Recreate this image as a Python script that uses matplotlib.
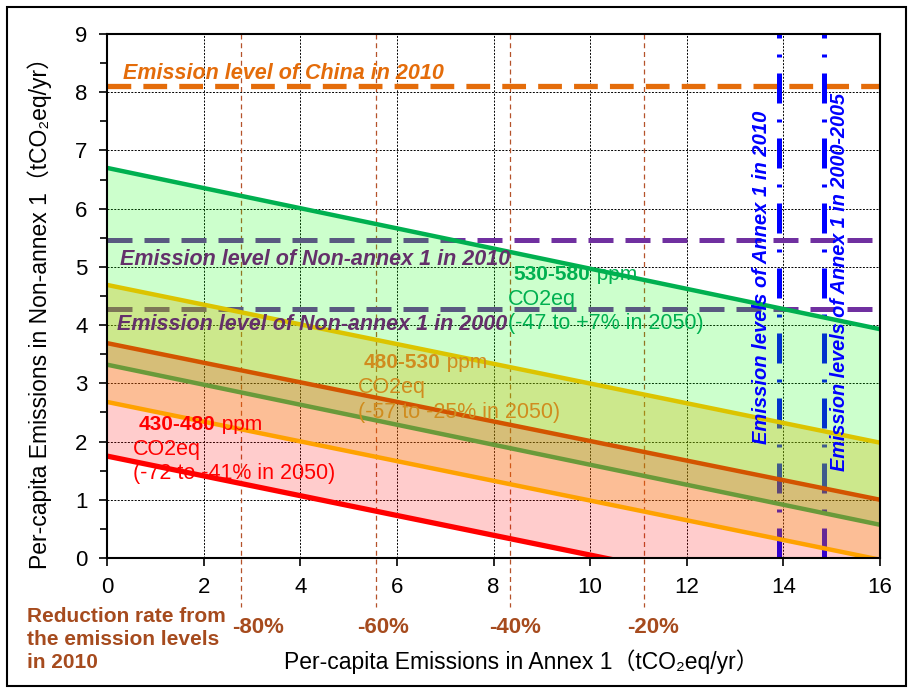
import matplotlib
matplotlib.use("Agg")
import matplotlib.pyplot as plt
from matplotlib.patches import Rectangle

plt.rcParams['font.family'] = ['Liberation Sans', 'Noto Sans CJK JP', 'DejaVu Sans']

# band boundary lines, value at x=0 and x=16
x_ends = [0, 16]
green_line = [6.70, 3.93]
yellow_line = [4.69, 1.98]
darkorange_line = [3.69, 1.00]
olive_line = [3.32, 0.57]
orange_line = [2.68, -0.03]
red_line = [1.75, -0.97]

# reference levels
china_2010 = 8.1
nonannex_2010 = 5.47
nonannex_2000 = 4.27
annex_2010 = 13.9
annex_2000_2005 = 14.85

# reduction rates from the 2010 Annex 1 level
rate_labels = ['-80%', '-60%', '-40%', '-20%']
rate_x = [2.78, 5.56, 8.34, 11.12]
rate_label_x = [3.12, 5.71, 8.45, 11.3]

xticks = list(range(0, 17, 2))
yticks = list(range(0, 10))

fig = plt.figure(figsize=(9.11, 6.88), dpi=100)
ax = fig.add_axes([0.1175, 0.189, 0.8485, 0.7616])
ax.set_xlim(0, 16)
ax.set_ylim(0, 9)

# horizontal reference levels (under the fills)
ax.axhline(china_2010, color='#e46c0a', lw=3.8, dashes=(4.5, 2.3), zorder=2)
ax.axhline(nonannex_2010, color='#7030a0', lw=3.6, dashes=(5, 2.4), zorder=2)
ax.axhline(nonannex_2000, color='#7030a0', lw=3.6, dashes=(5, 2.4), zorder=2)

# vertical Annex 1 levels
for xv in [annex_2010, annex_2000_2005]:
    ax.axvline(xv, color='#0000ff', lw=3.6, dashes=(6, 3.2, 0.6, 3.2), zorder=2)

# reduction-rate guides, running below the axis
for xv in rate_x:
    ax.plot([xv, xv], [9, -0.84], color='#b5522a', lw=0.9, dashes=(4, 3),
            clip_on=False, zorder=1.6)

# filled regions between lines
regions = [
    (green_line, yellow_line, (0, 1, 0), 0.2),
    (yellow_line, darkorange_line, (142/255, 204/255, 0), 0.45),
    (darkorange_line, olive_line, (178/255, 132/255, 0), 0.53),
    (olive_line, orange_line, (248/255, 97/255, 0), 0.41),
    (orange_line, red_line, (1, 0, 0), 0.2),
]
for top, bot, col, a in regions:
    ax.fill_between(x_ends, top, bot, color=col, alpha=a, lw=0, zorder=3)

lines = [
    (green_line, '#00b050'),
    (yellow_line, '#dcc400'),
    (darkorange_line, '#d35400'),
    (olive_line, '#6a9a3a'),
    (orange_line, '#ffa200'),
    (red_line, '#ff0000'),
]
for vals, col in lines:
    lw = 3.8 if col == '#ff0000' else 3.2
    ax.plot(x_ends, vals, color=col, lw=lw, zorder=4)

# grid and ticks
ax.set_xticks(xticks)
ax.set_yticks(yticks)
ax.set_yticks([v + 0.5 for v in yticks[:-1]], minor=True)
ax.grid(True, which='major', color='black', lw=0.7, dashes=(2, 1.5))
ax.set_axisbelow(True)
ax.tick_params(axis='both', which='major', labelsize=16, direction='out',
               length=6, width=1.2, pad=8)
ax.tick_params(axis='y', which='minor', direction='out', length=5, width=1.2)
for s in ax.spines.values():
    s.set_linewidth(1.5)
    s.set_zorder(6)

# labels inside plot
ax.text(0.33, 8.22, 'Emission level of China in 2010', color='#e46c0a',
        fontsize=15.5, fontweight='bold', style='italic', zorder=7)
ax.text(0.27, 5.04, 'Emission level of Non-annex 1 in 2010', color='#64306a',
        fontsize=15.5, fontweight='bold', style='italic', zorder=7)
ax.text(0.2, 3.92, 'Emission level of Non-annex 1 in 2000', color='#64306a',
        fontsize=15.5, fontweight='bold', style='italic', zorder=7)

ax.text(13.55, 4.82, 'Emission levels of Annex 1 in 2010', color='#0000ff',
        fontsize=14.5, fontweight='bold', style='italic', rotation=90,
        ha='center', va='center', zorder=7)
ax.text(15.17, 4.74, 'Emission levels of Annex 1 in 2000-2005', color='#0000ff',
        fontsize=14.3, fontweight='bold', style='italic', rotation=90,
        ha='center', va='center', zorder=7)


def band_label(x, y, rng, col, pct):
    t = ax.text(x + 0.12, y, rng, color=col, fontsize=15, fontweight='bold',
                zorder=7)
    ax.annotate(' ppm', xy=(1, 0), xycoords=t, va='bottom', color=col,
                fontsize=15, zorder=7)
    ax.text(x, y - 0.43, 'CO2eq', color=col, fontsize=15.5, zorder=7)
    ax.text(x, y - 0.85, pct, color=col, fontsize=15.5, zorder=7)


band_label(8.3, 4.78, '530-580', '#00b050', '(-47 to +7% in 2050)')
band_label(5.2, 3.26, '480-530', '#d08c1e', '(-57 to -25% in 2050)')
band_label(0.54, 2.2, '430-480', '#ff0000', '(-72 to -41% in 2050)')

for lab, xv in zip(rate_labels, rate_label_x):
    ax.text(xv, -1.2, lab, color='#a64b1e', fontsize=16,
            fontweight='bold', ha='center', va='center', clip_on=False)

fig.text(0.0296, 0.118, 'Reduction rate from\nthe emission levels\nin 2010',
         color='#a64b1e', fontsize=15, fontweight='bold', va='top',
         linespacing=1.28)

fig.text(0.572, 0.038, 'Per-capita Emissions in Annex 1（tCO₂eq/yr）',
         fontsize=16.5, ha='center', va='center')
fig.text(0.044, 0.553, 'Per-capita Emissions in Non-annex 1（tCO₂eq/yr）',
         fontsize=16.5, ha='center', va='center', rotation=90)

# outer frame
fig.patches.append(Rectangle((0.008, 0.003), 0.986, 0.987, fill=False,
                             lw=1.5, edgecolor='black',
                             transform=fig.transFigure, figure=fig))

fig.savefig('out.png', dpi=100)
